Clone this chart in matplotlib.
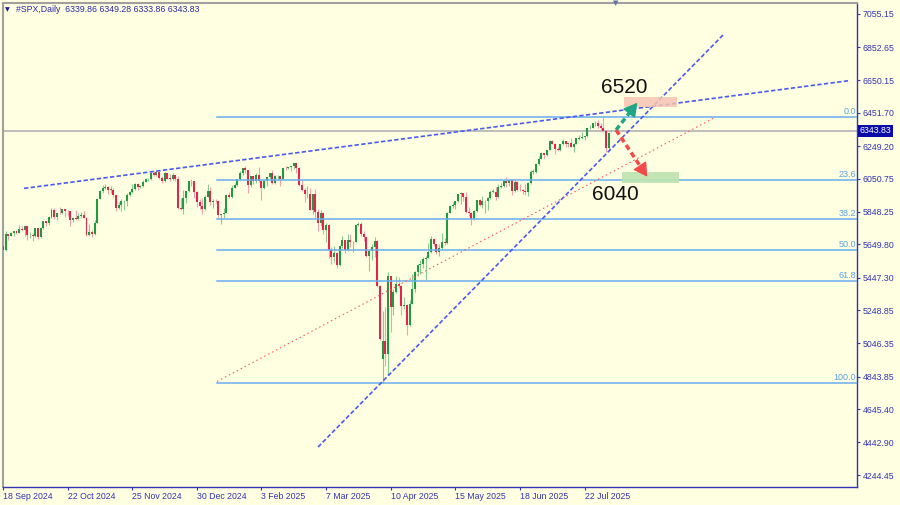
import matplotlib
matplotlib.use("Agg")
import matplotlib.pyplot as plt
import numpy as np

# ---------------- data ----------------
opens = [5641,5618,5713,5702,5718,5732,5722,5745,5738,5762,5705,5709,5700,5751,5696,5751,5792,5780,5815,5859,
         5815,5842,5841,5865,5853,5851,5797,5809,5808,5823,5832,5813,5705,5728,5712,5783,5929,5973,5996,6001,
         5984,5985,5949,5871,5893,5915,5917,5949,5969,5987,6021,5998,6004,6032,6047,6049,6086,6075,6090,6053,
         6034,6085,6055,6051,6074,6050,5872,5867,5931,5974,6040,6037,5971,5907,5882,5869,5942,5975,5909,5918,
         5915,5827,5836,5843,5950,5937,5997,6015,6049,6086,6119,6101,6012,6068,6039,6071,6040,5994,6037,6061,
         6083,6026,6066,6068,6052,6115,6114,6120,6129,6144,6117,6013,5983,5955,5956,5861,5955,5850,5778,5843,
         5739,5770,5615,5572,5599,5522,5639,5675,5615,5675,5663,5668,5768,5777,5712,5693,5581,5612,5633,5671,
         5397,4950,5062,4982,5457,5268,5363,5406,5397,5276,5283,5158,5288,5376,5485,5525,5529,5561,5569,5604,
         5686,5650,5607,5631,5664,5660,5844,5886,5892,5916,5958,5964,5940,5845,5842,5803,5855,5922,5889,5912,
         5912,5936,5970,5971,5939,6000,6006,6039,6022,6045,5977,6033,5983,5981,5975,5967,6025,6092,6090,6141,
         6173,6205,6198,6227,6279,6265,6230,6226,6263,6280,6260,6269,6244,6264,6295,6297,6306,6309,6359,6363,
         6389,6390,6371,6362,6339,6238,6339.86]
highs = [5690,5733,5715,5725,5735,5741,5767,5765,5763,5765,5723,5718,5753,5753,5758,5796,5796,5822,5871,5871,
         5843,5879,5866,5868,5863,5853,5817,5862,5842,5847,5851,5815,5772,5741,5800,5936,5983,6012,6017,6009,
         6008,5993,5952,5909,5925,5920,5963,5973,6021,6025,6025,6010,6044,6053,6055,6089,6100,6100,6092,6066,
         6092,6088,6078,6085,6076,6070,5935,5982,5978,6040,6049,6040,5975,5929,5935,5949,6021,6000,5928,5925,
         5920,5837,5872,5956,5968,6014,6025,6051,6100,6119,6128,6105,6070,6070,6088,6121,6045,6042,6062,6084,
         6101,6073,6076,6070,6116,6127,6125,6129,6147,6146,6120,6043,5993,6009,5994,5959,5987,5865,5861,5845,
         5783,5772,5636,5642,5605,5645,5704,5680,5716,5711,5670,5775,5787,5784,5732,5695,5614,5650,5695,5680,
         5400,5247,5267,5482,5460,5381,5460,5450,5400,5329,5285,5310,5470,5489,5528,5554,5571,5581,5659,5700,
         5690,5655,5655,5721,5691,5845,5893,5907,5917,5959,5969,5966,5969,5878,5845,5860,5922,5930,5944,5922,
         5937,5981,5991,5999,6017,6022,6043,6059,6046,6048,6051,6035,6019,5990,6018,6028,6101,6108,6146,6187,
         6215,6210,6227,6284,6285,6270,6242,6265,6291,6282,6271,6302,6266,6298,6315,6336,6312,6359,6381,6390,
         6401,6410,6391,6427,6345,6335,6349.28]
lows = [5615,5612,5675,5700,5699,5713,5720,5734,5704,5675,5687,5674,5698,5683,5690,5745,5763,5770,5812,5804,
        5802,5836,5838,5820,5822,5762,5784,5799,5805,5810,5812,5703,5700,5696,5705,5780,5925,5965,5986,5960,
        5965,5942,5853,5865,5851,5860,5884,5945,5965,5980,5984,5996,6000,6030,6034,6045,6070,6070,6048,6024,
        6030,6051,6035,6045,6035,5867,5860,5833,5902,5970,6007,5932,5880,5869,5835,5860,5940,5890,5874,5905,
        5807,5773,5811,5840,5934,5935,5995,6007,6045,6074,6088,5962,6001,6017,6026,6030,5923,5990,6007,6051,
        6020,6020,6044,6004,6048,6104,6110,6099,6111,6087,6008,5977,5909,5932,5858,5837,5810,5732,5762,5711,
        5666,5565,5528,5546,5505,5518,5628,5598,5610,5632,5603,5665,5764,5700,5670,5572,5489,5558,5571,5390,
        5070,4806,4910,4857,5115,5220,5355,5386,5220,5255,5101,5150,5285,5360,5455,5468,5506,5433,5565,5600,
        5642,5590,5579,5625,5644,5655,5840,5874,5868,5908,5895,5915,5842,5825,5768,5800,5850,5886,5875,5844,
        5862,5929,5966,5921,5935,5994,6000,6003,6004,5953,5970,5977,5974,5960,5952,5943,6020,6080,6088,6132,
        6170,6178,6188,6225,6262,6201,6217,6222,6254,6242,6246,6242,6211,6260,6287,6295,6285,6305,6355,6360,
        6375,6362,6334,6336,6212,6230,6333.86]
closes = [5618,5713,5702,5718,5732,5722,5745,5738,5762,5709,5709,5700,5751,5696,5751,5792,5780,5815,5859,5815,
          5842,5841,5865,5853,5851,5797,5809,5808,5823,5832,5813,5705,5728,5712,5783,5929,5973,5996,6001,5984,
          5985,5949,5871,5893,5917,5917,5949,5969,5987,6021,5998,6004,6032,6047,6049,6086,6075,6090,6053,6034,
          6085,6051,6051,6074,6050,5872,5867,5931,5974,6040,6037,5971,5907,5882,5869,5942,5975,5909,5918,5915,
          5827,5836,5843,5950,5937,5997,6015,6049,6086,6119,6101,6012,6068,6039,6071,6040,5994,6037,6061,6083,
          6026,6066,6068,6052,6115,6114,6120,6129,6144,6117,6013,5983,5955,5956,5861,5955,5850,5778,5843,5739,
          5770,5615,5572,5599,5522,5639,5675,5615,5675,5663,5668,5768,5777,5712,5693,5581,5612,5633,5671,5397,
          5074,5062,4982,5457,5268,5363,5406,5397,5276,5283,5158,5288,5376,5485,5525,5529,5561,5569,5604,5686,
          5650,5607,5631,5664,5660,5844,5886,5892,5916,5958,5964,5940,5845,5842,5803,5855,5922,5889,5912,5912,
          5936,5970,5971,5939,6000,6006,6039,6022,6045,5977,6033,5983,5981,5975,5967,6025,6092,6093,6141,6173,
          6205,6198,6227,6279,6265,6230,6226,6263,6280,6260,6269,6244,6264,6297,6297,6306,6309,6359,6363,6389,
          6390,6371,6362,6339,6238,6330,6343.83]

date_tick_index = [0, 24, 48, 72, 96, 120, 144, 168, 192, 216]
date_tick_labels = ["18 Sep 2024", "22 Oct 2024", "25 Nov 2024", "30 Dec 2024", "3 Feb 2025",
                    "7 Mar 2025", "10 Apr 2025", "15 May 2025", "18 Jun 2025", "22 Jul 2025"]
price_ticks = [7055.15, 6852.65, 6650.15, 6451.70, 6249.20, 6050.75, 5848.25, 5649.80,
               5447.30, 5248.85, 5046.35, 4843.85, 4645.40, 4442.90, 4244.45]

fib_levels = [0.0, 23.6, 38.2, 50.0, 61.8, 100.0]
fib_labels = ["0.0", "23.6", "38.2", "50.0", "61.8", "100.0"]
fib_high = 6425.0
fib_low = 4806.0
fib_start = 79.5

last_price = 6343.83
header_text = "#SPX,Daily  6339.86 6349.28 6333.86 6343.83"

# trend lines (bar index, price)
upper_line_x = [7.8, 313.9]
upper_line_y = [5992, 6648]
channel_line_x = [117.0, 267.8]
channel_line_y = [4415, 6933]
red_line_x = [79.5, 264.5]
red_line_y = [4815, 6425]

target_up = "6520"
target_down = "6040"

# ---------------- figure ----------------
BG = "#FFFFE2"
AXC = "#3434b4"
font = "Liberation Sans"
plt.rcParams["font.family"] = [font, "DejaVu Sans"]

fig = plt.figure(figsize=(9, 5.05), dpi=100, facecolor=BG)
ax = fig.add_axes([2.5 / 900, 18 / 505, (857 - 2.5) / 900, (487 - 3) / 505])
ax.set_facecolor(BG)

o = np.array(opens, float); h = np.array(highs, float)
l = np.array(lows, float); c = np.array(closes, float)
x = np.arange(len(c))
up = c >= o

ax.vlines(x[up], l[up], h[up], color="#8acb94", lw=0.8, zorder=2)
ax.vlines(x[~up], l[~up], h[~up], color="#f2a0ae", lw=0.8, zorder=2)
bot = np.minimum(o, c)
hgt = np.maximum(np.abs(c - o), 3)
ax.bar(x[up], hgt[up], bottom=bot[up], width=0.74, color="#1f9a40", lw=0, zorder=3)
ax.bar(x[~up], hgt[~up], bottom=bot[~up], width=0.74, color="#e6234b", lw=0, zorder=3)

# current price line
ax.axhline(last_price, color="#b8b8b8", lw=1.3, zorder=1)

# fibonacci levels
for lev, lab in zip(fib_levels, fib_labels):
    p = fib_high - (fib_high - fib_low) * lev / 100.0
    ax.plot([fib_start, 400], [p, p], color="#6aaef0", lw=1.1, zorder=4)
    ax.text(0.9985, p + 6, lab, transform=ax.get_yaxis_transform(), ha="right", va="bottom",
            fontsize=6.5, color="#5aa2ea", zorder=5)

# trend lines
ax.plot(upper_line_x, upper_line_y, color="#4a5af0", lw=1.2, dashes=(2.6, 1.4), zorder=4)
ax.plot(channel_line_x, channel_line_y, color="#4a5af0", lw=1.2, dashes=(2.6, 1.4), zorder=4)
ax.plot(red_line_x, red_line_y, color="#ff5a5a", lw=0.8, dashes=(1.4, 2.6), zorder=4)

# target zones
ax.add_patch(plt.Rectangle((230.7, 6490), 19.7, 57, facecolor="#f7c4b4", alpha=0.85, lw=0, zorder=4))
ax.add_patch(plt.Rectangle((229.8, 6027), 21.3, 67, facecolor="#bde3b0", alpha=0.9, lw=0, zorder=4))

# arrows
def dashed_arrow(x0, y0, x1, y1, col):
    fx = x0 + (x1 - x0) * 0.8
    fy = y0 + (y1 - y0) * 0.8
    ax.plot([x0, fx], [y0, fy], color=col, lw=2.5, dashes=(1.6, 1.0), zorder=6, solid_capstyle="butt")
    ax.annotate("", xy=(x1, y1), xytext=(fx, fy),
                arrowprops=dict(arrowstyle="-|>,head_length=0.7,head_width=0.4", color=col,
                                lw=1.0, mutation_scale=12, shrinkA=0, shrinkB=0), zorder=7)

dashed_arrow(227.7, 6348, 235.6, 6514, "#1fa684")
dashed_arrow(227.7, 6348, 239.3, 6063, "#f24a4a")

ax.text(230.7, 6607, target_up, fontsize=15, ha="center", va="center", color="#111111", zorder=8)
ax.text(227.5, 5955, target_down, fontsize=15, ha="center", va="center", color="#111111", zorder=8)

# axes
ax.set_xlim(-0.2, 317.2)
ax.set_ylim(4171.3, 7122.2)
ax.yaxis.tick_right()
ax.set_yticks(price_ticks)
ax.set_yticklabels([f"{v:.2f}" for v in price_ticks])
ax.set_xticks(date_tick_index)
ax.set_xticklabels(date_tick_labels)
for lab in ax.get_xticklabels():
    lab.set_ha("left")
ax.tick_params(axis="y", direction="out", length=2.5, width=0.8, color=AXC, labelcolor=AXC,
               labelsize=6.3, pad=1.5)
ax.tick_params(axis="x", direction="out", length=2, width=0.8, color=AXC, labelcolor=AXC,
               labelsize=6.3, pad=1.5)
for s in ["right", "bottom"]:
    ax.spines[s].set_color(AXC)
    ax.spines[s].set_linewidth(1.0)
for s in ["left", "top"]:
    ax.spines[s].set_color("#a0a0a0")
    ax.spines[s].set_linewidth(1.5)

# current price label
ax.text(1.003, last_price, f"{last_price:.2f}", transform=ax.get_yaxis_transform(), ha="left",
        va="center", fontsize=6.3, color="white", zorder=10, clip_on=False,
        bbox=dict(boxstyle="square,pad=0.18", fc="#0b0ba8", ec="none"))

# header
fig.text(7 / 900, 1 - 10 / 505, "\u25bc", fontsize=4.5, color="#1a1a9a", ha="center", va="center",
         family="DejaVu Sans")
fig.text(16 / 900, 1 - 10 / 505, header_text, fontsize=6.3, color="#2a2aa8", ha="left", va="center")
# chart shift marker
fig.text(616 / 900, 1 - 3.5 / 505, "\u25bc", fontsize=5, color="#6070a8", ha="center", va="center",
         family="DejaVu Sans")

fig.savefig("out.png", dpi=100, facecolor=BG)
